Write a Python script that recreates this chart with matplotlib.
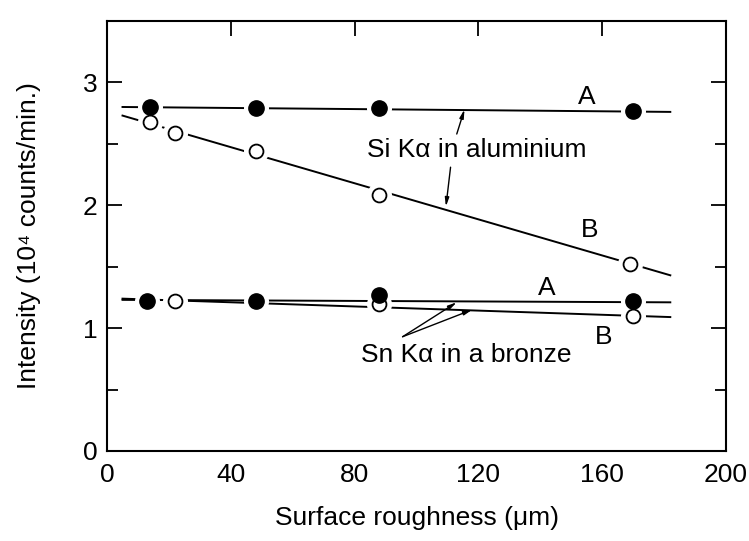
import matplotlib.pyplot as plt
import numpy as np

plt.rcParams['font.family'] = ['Liberation Sans', 'DejaVu Sans']

# measured points (roughness in um, intensity in 10^4 counts/min)
si_a_x = [14, 48, 88, 170]
si_a_y = [2.80, 2.79, 2.79, 2.77]
si_b_x = [14, 22, 48, 88, 169]
si_b_y = [2.68, 2.59, 2.44, 2.08, 1.52]
sn_a_x = [13, 48, 88, 170]
sn_a_y = [1.22, 1.22, 1.27, 1.22]
sn_b_x = [22, 88, 170]
sn_b_y = [1.22, 1.20, 1.10]

# straight lines drawn through each set (end points)
fit_x = [5, 182]
fit_si_a = [2.80, 2.76]
fit_si_b = [2.73, 1.43]
fit_sn_a = [1.23, 1.21]
fit_sn_b = [1.24, 1.09]

fig = plt.figure(figsize=(7.49, 5.41), dpi=100)
ax = fig.add_axes([0.1429, 0.1664, 0.8264, 0.7948])

for fy in [fit_si_a, fit_si_b, fit_sn_a, fit_sn_b]:
    ax.plot(fit_x, fy, color='black', lw=1.4, zorder=1)

# white halo so the lines stop short of the dots
for xs, ys in [(si_a_x, si_a_y), (si_b_x, si_b_y), (sn_a_x, sn_a_y), (sn_b_x, sn_b_y)]:
    ax.plot(xs, ys, 'o', ms=17, color='white', mec='white', zorder=2)

ax.plot(si_b_x, si_b_y, 'o', ms=10, mfc='white', mec='black', mew=1.3, zorder=3)
ax.plot(sn_b_x, sn_b_y, 'o', ms=10, mfc='white', mec='black', mew=1.3, zorder=3)
ax.plot(si_a_x, si_a_y, 'o', ms=11, color='black', zorder=4)
ax.plot(sn_a_x, sn_a_y, 'o', ms=11, color='black', zorder=4)

ax.set_xlim(0, 200)
ax.set_ylim(0, 3.5)
ax.set_xticks([0, 40, 80, 120, 160, 200])
ax.set_yticks([0, 1, 2, 3])
ax.set_yticks([0.5, 1.5, 2.5], minor=True)
ax.tick_params(axis='x', direction='in', top=True, bottom=False, length=11, width=1.3,
               labelsize=19, pad=9)
ax.tick_params(axis='y', which='major', direction='in', left=True, right=True, length=11,
               width=1.3, labelsize=19, pad=7)
ax.tick_params(axis='y', which='minor', direction='in', left=True, right=True, length=8,
               width=1.3)
for s in ax.spines.values():
    s.set_linewidth(1.5)

ax.set_xlabel('Surface roughness (μm)', fontsize=19)
ax.set_ylabel('Intensity (10⁴ counts/min.)', fontsize=19)
ax.xaxis.set_label_coords(0.5, -0.128)
ax.yaxis.set_label_coords(-0.106, 0.5)

ax.text(155, 2.88, 'A', fontsize=19, ha='center', va='center')
ax.text(156, 1.80, 'B', fontsize=19, ha='center', va='center')
ax.text(84, 2.45, 'Si Kα in aluminium', fontsize=19, ha='left', va='center')
ax.text(142, 1.33, 'A', fontsize=19, ha='center', va='center')
ax.text(160.5, 0.93, 'B', fontsize=19, ha='center', va='center')
ax.text(82, 0.78, 'Sn Kα in a bronze', fontsize=19, ha='left', va='center')

arr = dict(arrowstyle='-|>,head_length=0.5,head_width=0.12', color='black', lw=1.0,
           shrinkA=0, shrinkB=0)
ax.annotate('', xy=(115.5, 2.78), xytext=(113, 2.58), arrowprops=arr)
ax.annotate('', xy=(109.5, 1.99), xytext=(111, 2.31), arrowprops=arr)
ax.annotate('', xy=(113, 1.21), xytext=(95.5, 0.93), arrowprops=arr)
ax.annotate('', xy=(118, 1.15), xytext=(95.5, 0.93), arrowprops=arr)

fig.savefig('out.png', dpi=100)
